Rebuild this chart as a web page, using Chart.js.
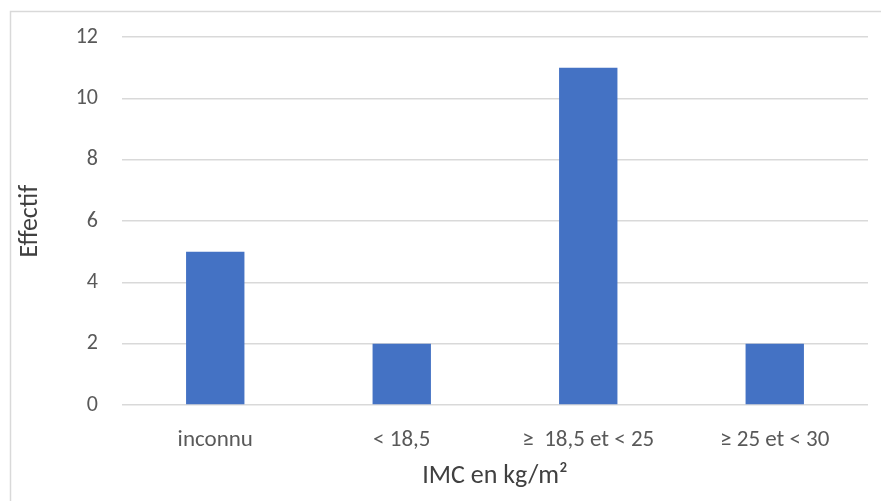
<!DOCTYPE html>
<html>
<head>
<meta charset="utf-8">
<script src="https://cdn.jsdelivr.net/npm/chart.js@4"></script>
<style>
  html, body { margin: 0; padding: 0; background: #ffffff; }
  #wrap { width: 881px; height: 501px; position: relative; }
</style>
</head>
<body>
<div id="wrap"><canvas id="imc_chart"></canvas></div>
<script>
// données
const categories = ['inconnu', '< 18,5', '≥  18,5 et < 25', '≥ 25 et < 30'];
const effectifs = [5, 2, 11, 2];
const yTicks = [0, 2, 4, 6, 8, 10, 12];

const fontFamily = "Carlito, Lato, 'Open Sans', sans-serif";
const textColor = '#595959';

// cadre gris clair du graphique (bord haut et gauche)
const frame = {
    id: 'frame',
    beforeDraw(chart) {
        const ctx = chart.ctx;
        ctx.save();
        ctx.strokeStyle = '#d9d9d9';
        ctx.lineWidth = 1.5;
        ctx.beginPath();
        ctx.moveTo(10.5, chart.height);
        ctx.lineTo(10.5, 11.5);
        ctx.lineTo(chart.width, 11.5);
        ctx.stroke();
        ctx.restore();
    }
};

new Chart(document.getElementById('imc_chart'), {
    type: 'bar',
    data: {
        labels: categories,
        datasets: [{
            label: 'Effectif',
            data: effectifs,
            backgroundColor: '#4472c4',
            borderWidth: 0,
            categoryPercentage: 1,
            barPercentage: 0.313
        }]
    },
    plugins: [frame],
    options: {
        responsive: true,
        maintainAspectRatio: false,
        animation: false,
        layout: { padding: { left: 11, right: 13, top: 36, bottom: 6 } },
        plugins: {
            legend: { display: false },
            tooltip: { enabled: false }
        },
        scales: {
            x: {
                grid: { display: false },
                border: { display: false },
                ticks: {
                    color: textColor,
                    font: { family: fontFamily, size: 23 },
                    padding: 13,
                    maxRotation: 0
                },
                title: {
                    display: true,
                    text: 'IMC en kg/m²',
                    color: '#404040',
                    font: { family: fontFamily, size: 26 },
                    padding: { top: 0, bottom: 3 }
                },
                afterFit(scale) { scale.height = 90; }
            },
            y: {
                min: 0,
                max: 12,
                afterBuildTicks(scale) {
                    scale.ticks = yTicks.map(v => ({ value: v }));
                },
                grid: { color: '#d9d9d9', lineWidth: 1.5, drawTicks: false },
                border: { display: false },
                ticks: {
                    color: textColor,
                    font: { family: fontFamily, size: 22 },
                    padding: 24
                },
                title: {
                    display: true,
                    text: 'Effectif',
                    color: '#404040',
                    font: { family: fontFamily, size: 26 },
                    padding: { top: 4, bottom: 0 }
                },
                afterFit(scale) { scale.width = 111; }
            }
        }
    }
});
</script>
</body>
</html>
